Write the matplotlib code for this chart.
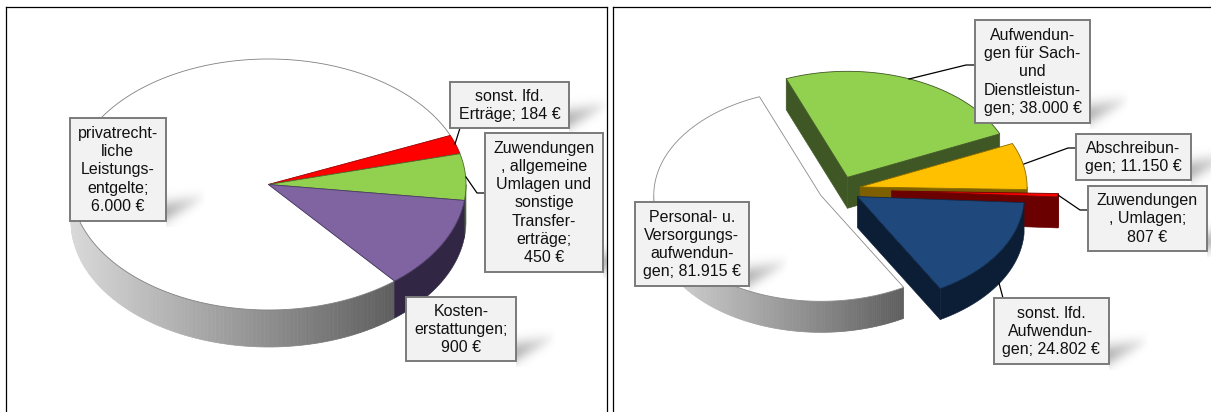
import numpy as np
import matplotlib
matplotlib.use('Agg')
import matplotlib.pyplot as plt
from matplotlib.patches import Rectangle

plt.rcParams['font.family'] = ['Liberation Sans', 'DejaVu Sans']

W, H = 1211, 412

# left chart: earnings
left_names = ['privatrecht-\nliche\nLeistungs-\nentgelte;\n', 'sonst. lfd.\nErträge; ',
              'Zuwendungen\n, allgemeine\nUmlagen und\nsonstige\nTransfer-\nerträge;\n', 'Kosten-\nerstattungen;\n']
left_values = [6000, 184, 450, 900]
left_colors = ['#ffffff', '#ff0000', '#92d050', '#8064a2']
left_sides = ['gradient', '#7a0000', '#49682a', '#312744']
left_edges = ['#808080', '#b00000', '#4a6a2a', '#4a3a66']
left_explode = [0, 0, 0, 0]

# right chart: expenses
right_names = ['Personal- u.\nVersorgungs-\naufwendun-\ngen; ', 'Aufwendun-\ngen für Sach-\nund\nDienstleistun-\ngen; ',
               'Abschreibun-\ngen; ', 'Zuwendungen\n, Umlagen;\n', 'sonst. lfd.\nAufwendun-\ngen; ']
right_values = [81915, 38000, 11150, 807, 24802]
right_colors = ['#ffffff', '#92d050', '#ffc000', '#ff0000', '#1f497d']
right_sides = ['gradient', '#3f5724', '#7f6000', '#6b0000', '#0c1e36']
right_edges = ['#8a8a8a', '#3f5724', '#8a6a00', '#6b0000', '#10294a']
right_explode = [0.125, 0.125, 0.125, 0.31, 0.125]

# label boxes (x0, x1, y0, y1) and leader lines in pixels
left_boxes = [(69.5, 166, 118, 221), (450, 569, 82, 128), (485, 603, 133, 272), (406, 516, 297, 361)]
left_leaders = [[(460, 128), (455, 144)], [(485, 193), (477, 193), (466, 177)]]
right_boxes = [(634.5, 749, 202, 286), (975, 1090, 20, 123), (1076, 1191, 134, 180),
               (1088, 1207, 186, 251), (993.5, 1108.5, 298, 364)]
right_leaders = [[(975, 65), (966, 65), (909, 79)], [(1076, 148), (1068, 148), (1024, 164)],
                 [(1088, 210), (1080, 210), (1058, 195)], [(1003, 298), (999, 283)]]


def pt(cx, cy, rx, ry, th):
    th = np.radians(th)
    return cx + rx * np.cos(th), cy - ry * np.sin(th)


def shadow(ax, box):
    x0, x1, y0, y1 = box
    xs = np.linspace(x1, x1 + 40, 80)
    ys = np.linspace(y1 - 44, y1 + 6, 100)
    xx, yy = np.meshgrid(xs, ys)
    t = (xx - x1) / 40
    yc = y1 - 9 - 15 * t
    w = 11 * (1 - 0.4 * t)
    a = 0.45 * (1 - t) * np.exp(-((yy - yc) / w) ** 2)
    img = np.zeros(xx.shape + (4,))
    img[..., :3] = 0.4
    img[..., 3] = a
    ax.imshow(img, extent=(xs[0], xs[-1], ys[-1], ys[0]), aspect='auto', zorder=6, interpolation='bilinear')


def draw_pie(ax, names, values, colors, sides, edges, explode, start, cx, cy, rx, ry, depth, boxes, leaders):
    values = np.array(values, dtype=float)
    spans = values / values.sum() * 360
    th = start
    for i in range(len(values)):
        th1, th2 = th, th - spans[i]
        th = th2
        mid = np.radians((th1 + th2) / 2)
        ax0 = cx + explode[i] * rx * np.cos(mid)
        ay0 = cy - explode[i] * ry * np.sin(mid)
        z = 1 + i * 0.1

        # radial walls, a closed pie does not show them
        if explode[i] > 0 and sides[i] != 'gradient':
            if np.sin(np.radians(th1 + 90)) < 0:
                x, y = pt(ax0, ay0, rx, ry, th1)
                ax.fill([ax0, x, x, ax0], [ay0, y, y + depth, ay0 + depth], color=sides[i], lw=0.4, zorder=z)
            if np.sin(np.radians(th2 - 90)) < 0:
                x, y = pt(ax0, ay0, rx, ry, th2)
                ax.fill([ax0, x, x, ax0], [ay0, y, y + depth, ay0 + depth], color=sides[i], lw=0.4, zorder=z)

        # outer wall, only the part facing down
        arc = np.linspace(th1, th2, 240)
        arc = arc[np.sin(np.radians(arc)) < 0]
        if len(arc) > 1:
            x, y = pt(ax0, ay0, rx, ry, arc)
            if sides[i] == 'gradient':
                xend = x.max()
                for j in range(len(arc) - 1):
                    g = np.interp((x[j] + x[j + 1]) / 2, [ax0 - rx, xend], [0.85, 0.37])
                    ax.fill([x[j], x[j + 1], x[j + 1], x[j]], [y[j], y[j + 1], y[j + 1] + depth, y[j] + depth],
                            color=(g, g, g), lw=0.5, zorder=z)
            else:
                ax.fill(np.r_[x, x[::-1]], np.r_[y, y[::-1] + depth], color=sides[i], lw=0.4, zorder=z)

        # top face
        arc = np.linspace(th1, th2, 240)
        x, y = pt(ax0, ay0, rx, ry, arc)
        ax.fill(np.r_[ax0, x], np.r_[ay0, y], facecolor=colors[i], edgecolor=edges[i], lw=0.6, zorder=z + 0.05)

    for line in leaders:
        ax.plot([p[0] for p in line], [p[1] for p in line], color='black', lw=0.9, zorder=5)

    for i, box in enumerate(boxes):
        x0, x1, y0, y1 = box
        shadow(ax, box)
        ax.add_patch(Rectangle((x0, y0), x1 - x0, y1 - y0, facecolor='#f2f2f2', edgecolor='#7a7a7a', lw=1.4, zorder=7))
        txt = names[i] + f'{int(values[i]):,}'.replace(',', '.') + ' €'
        ax.text((x0 + x1) / 2, (y0 + y1) / 2 + 0.5, txt, ha='center', va='center', fontsize=11.5, color='#111111',
                linespacing=1.26, zorder=8)


fig = plt.figure(figsize=(W / 100, H / 100), dpi=100, facecolor='white')

ax1 = fig.add_axes([6 / W, -10 / H, 601 / W, (H + 3) / H])
ax2 = fig.add_axes([613 / W, -10 / H, 610 / W, (H + 3) / H])

draw_pie(ax1, left_names, left_values, left_colors, left_sides, left_edges, left_explode,
         -50.3, 268.5, 184.5, 197.5, 125.5, 37, left_boxes, left_leaders)
draw_pie(ax2, right_names, right_values, right_colors, right_sides, right_edges, right_explode,
         -60.25, 839.6, 189.6, 167, 106, 31, right_boxes, right_leaders)

ax1.set_xlim(6, 607)
ax1.set_ylim(H + 10, 7)
ax2.set_xlim(613, 1223)
ax2.set_ylim(H + 10, 7)
for ax in (ax1, ax2):
    ax.set_xticks([])
    ax.set_yticks([])
    for s in ax.spines.values():
        s.set_linewidth(0.9)

fig.savefig('out.png', dpi=100)
